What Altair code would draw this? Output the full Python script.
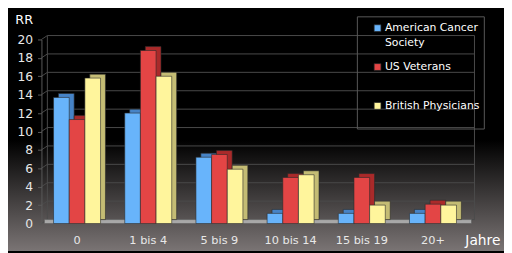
import altair as alt
import pandas as pd

cats = ["0", "1 bis 4", "5 bis 9", "10 bis 14", "15 bis 19", "20+"]
series = ["American Cancer Society", "US Veterans", "British Physicians"]
acs = [13.7, 12.0, 7.2, 1.1, 1.1, 1.1]
usv = [11.3, 18.8, 7.5, 5.0, 5.0, 2.1]
bp = [15.8, 16.0, 5.9, 5.3, 2.0, 2.0]
ticks = [0, 2, 4, 6, 8, 10, 12, 14, 16, 18, 20]

front_colors = ["#68b4fb", "#e34545", "#fff59c"]
dark_colors = ["#4683c6", "#aa2a2a", "#c4bc74"]

rows = []
for s, vals in zip(series, [acs, usv, bp]):
    for c, v in zip(cats, vals):
        rows.append({"cat": c, "series": s, "val": v})
df = pd.DataFrame(rows)
tick_df = pd.DataFrame({"v": ticks})

W, H = 434, 187
D_X, D_Y = 6, -4
BW = W / 6 * 0.66

yscale = alt.Scale(domain=[0, 20], nice=False, zero=True)
xscale = alt.Scale(domain=cats, paddingInner=0.34, paddingOuter=0.17)
offscale = alt.Scale(domain=series, paddingInner=0, paddingOuter=0)
offscale_back = alt.Scale(domain=series, paddingInner=0, paddingOuter=0, range=[5, BW + 5])

yaxis = alt.Axis(title="RR", values=ticks, grid=False, tickSize=4, labelPadding=5,
                 labelFontSize=12.5, titleAngle=0, titleX=-18, titleY=-20,
                 titleAlign="center", titleBaseline="middle", titleFontSize=13,
                 zindex=1, domainColor="#5a5a5a", tickColor="#5a5a5a")
xaxis = alt.Axis(title="Jahre", labelAngle=0, domain=False, ticks=False,
                 labelPadding=11, labelFontSize=11.5, titleX=448, titleY=17,
                 titleAlign="center", titleBaseline="middle", titleFontSize=14,
                 zindex=1)

bg = alt.Chart(pd.DataFrame({"a": [0]})).mark_rect(
    fill=alt.LinearGradient(
        gradient="linear",
        stops=[alt.GradientStop(offset=0, color="#000000"),
               alt.GradientStop(offset=0.54, color="#000000"),
               alt.GradientStop(offset=1, color="#7a7474")],
        x1=0, x2=0, y1=0, y2=1)
).encode(x=alt.value(-34), x2=alt.value(W + 36), y=alt.value(-30), y2=alt.value(H + 28))

grid = alt.Chart(tick_df).mark_rule(color="#4a4a4a", strokeWidth=1, yOffset=D_Y).encode(
    y=alt.Y("v:Q", scale=yscale, axis=yaxis),
    x=alt.value(D_X), x2=alt.value(W + D_X))

conn = alt.Chart(tick_df).mark_rule(color="#4a4a4a", strokeWidth=1, y2Offset=D_Y).encode(
    y=alt.Y("v:Q", scale=yscale, axis=yaxis), y2="v:Q",
    x=alt.value(0), x2=alt.value(D_X))

walls = alt.Chart(pd.DataFrame({"xw": [D_X, W + D_X]})).mark_rule(
    color="#4a4a4a", strokeWidth=1, yOffset=D_Y, y2Offset=D_Y).encode(
    x=alt.X("xw:Q", scale=None), y=alt.Y(datum=0, scale=yscale, axis=yaxis), y2=alt.Y2(datum=20))

floor = alt.Chart(pd.DataFrame({"a": [0]})).mark_rect(
    color="#a8a8a8", stroke="#555", strokeWidth=0.5, xOffset=3, x2Offset=3, y2Offset=D_Y).encode(
    x=alt.value(0), x2=alt.value(W), y=alt.Y(datum=0, scale=yscale, axis=yaxis), y2=alt.Y2(datum=0))

# legend frame (decoration)
frame = alt.Chart(pd.DataFrame({"a": [0]})).mark_rect(
    fill=None, stroke="#5a5a5a", strokeWidth=1).encode(
    x=alt.value(321), x2=alt.value(450), y=alt.value(-23), y2=alt.value(91))

back = alt.Chart(df).mark_bar(
    yOffset=-4, y2Offset=-4, stroke="#2a2a2a", strokeWidth=0.6).encode(
    x=alt.X("cat:N", scale=xscale, sort=cats, axis=xaxis),
    xOffset=alt.XOffset("series:N", scale=offscale_back, sort=series),
    y=alt.Y("val:Q", scale=yscale, axis=yaxis),
    color=alt.Color("series:N", scale=alt.Scale(domain=series, range=dark_colors), legend=None))

label_expr = ("datum.label == 'American Cancer Society' ? ['American Cancer', 'Society'] : "
              "[datum.label, ' ']")

front = alt.Chart(df).mark_bar(stroke="#2a2a2a", strokeWidth=0.6, opacity=1).encode(
    x=alt.X("cat:N", scale=xscale, sort=cats, axis=xaxis),
    xOffset=alt.XOffset("series:N", scale=offscale, sort=series),
    y=alt.Y("val:Q", scale=yscale, axis=yaxis),
    color=alt.Color("series:N", scale=alt.Scale(domain=series, range=front_colors),
                    legend=alt.Legend(
                        title=None, orient="none", legendX=336, legendY=-17,
                        labelExpr=label_expr,
                        symbolType="square", symbolSize=49, symbolStrokeColor="#222",
                        symbolStrokeWidth=0.8, labelFontSize=11, labelOffset=2,
                        rowPadding=12.5, padding=0,
                        labelBaseline="middle", labelColor="#ffffff")))

chart = alt.layer(bg, grid, conn, walls, floor, frame, back, front).resolve_scale(
    color="independent", xOffset="independent"
).properties(
    width=W, height=H,
    autosize=alt.AutoSizeParams(type="none"),
    padding={"left": 34, "top": 30, "right": 36, "bottom": 28},
    background="#000000",
).configure(
    style={"guide-label": {"lineHeight": 15}}
).configure_view(stroke=None).configure_axis(
    labelColor="#e8e8e8", titleColor="#ffffff", labelFont="DejaVu Sans",
    titleFont="DejaVu Sans", titleFontWeight="normal"
).configure_legend(labelFont="DejaVu Sans")

chart.save("out.html", embed_options={"renderer": "svg", "actions": False})
